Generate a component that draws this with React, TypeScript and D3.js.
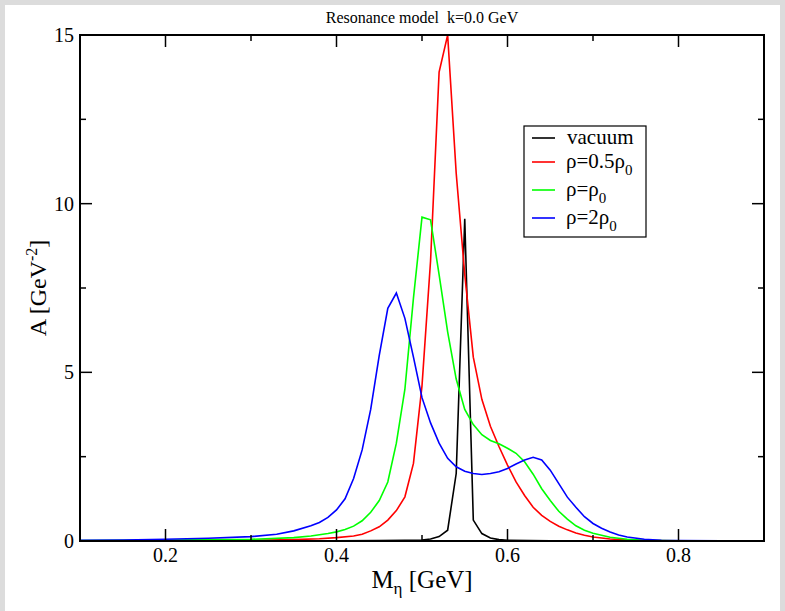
import React from "react";
import * as d3 from "d3";

const vacuumM = [0.1, 0.3, 0.4, 0.45, 0.48, 0.5, 0.51, 0.52, 0.53, 0.54, 0.55, 0.56, 0.57, 0.58, 0.59, 0.6, 0.65, 0.75, 0.9];
const vacuumA = [0.0, 0.002, 0.005, 0.01, 0.02, 0.03, 0.06, 0.13, 0.32, 2.0, 9.55, 0.62, 0.22, 0.09, 0.04, 0.02, 0.005, 0.001, 0.0];

const halfM = [0.1, 0.2, 0.3, 0.35, 0.38, 0.4, 0.42, 0.43, 0.44, 0.45, 0.46, 0.47, 0.48, 0.49, 0.5, 0.51, 0.52, 0.53, 0.54, 0.55, 0.56, 0.57, 0.58, 0.59, 0.6, 0.61, 0.62, 0.63, 0.64, 0.65, 0.66, 0.67, 0.68, 0.69, 0.7, 0.72, 0.74, 0.76, 0.8, 0.9];
const halfA = [0.003, 0.007, 0.02, 0.04, 0.065, 0.1, 0.15, 0.2, 0.3, 0.42, 0.62, 0.9, 1.31, 2.3, 4.6, 8.3, 13.9, 15.0, 10.9, 7.9, 5.45, 4.2, 3.4, 2.8, 2.25, 1.75, 1.35, 1.0, 0.76, 0.58, 0.44, 0.33, 0.24, 0.17, 0.12, 0.06, 0.03, 0.015, 0.005, 0.001];

const oneM = [0.1, 0.2, 0.3, 0.35, 0.37, 0.39, 0.4, 0.41, 0.42, 0.43, 0.44, 0.45, 0.46, 0.47, 0.48, 0.49, 0.5, 0.51, 0.52, 0.53, 0.54, 0.55, 0.56, 0.57, 0.58, 0.59, 0.6, 0.61, 0.62, 0.63, 0.64, 0.65, 0.66, 0.67, 0.68, 0.69, 0.7, 0.72, 0.74, 0.76, 0.8, 0.9];
const oneA = [0.01, 0.025, 0.05, 0.1, 0.15, 0.22, 0.27, 0.34, 0.44, 0.6, 0.85, 1.2, 1.75, 2.9, 4.5, 7.2, 9.6, 9.52, 7.9, 6.2, 4.8, 3.9, 3.45, 3.15, 2.98, 2.88, 2.75, 2.6, 2.35, 1.98, 1.55, 1.2, 0.88, 0.65, 0.45, 0.32, 0.23, 0.11, 0.05, 0.02, 0.005, 0.001];

const twoM = [0.1, 0.15, 0.2, 0.25, 0.3, 0.33, 0.35, 0.37, 0.38, 0.39, 0.4, 0.41, 0.42, 0.43, 0.44, 0.45, 0.46, 0.47, 0.48, 0.49, 0.5, 0.51, 0.52, 0.53, 0.54, 0.55, 0.56, 0.57, 0.58, 0.59, 0.6, 0.61, 0.62, 0.63, 0.64, 0.65, 0.66, 0.67, 0.68, 0.69, 0.7, 0.71, 0.72, 0.73, 0.74, 0.76, 0.78, 0.8, 0.9];
const twoA = [0.02, 0.03, 0.05, 0.08, 0.13, 0.2, 0.3, 0.45, 0.55, 0.7, 0.92, 1.25, 1.85, 2.7, 3.9, 5.5, 6.9, 7.35, 6.6, 5.45, 4.25, 3.5, 2.9, 2.45, 2.2, 2.07, 2.0, 1.97, 2.0, 2.05, 2.15, 2.28, 2.4, 2.48, 2.4, 2.1, 1.7, 1.3, 1.0, 0.72, 0.52, 0.38, 0.27, 0.18, 0.12, 0.05, 0.02, 0.01, 0.0];

const xMajorTicks = [0.2, 0.4, 0.6, 0.8];
const xMinorTicks = [0.1, 0.3, 0.5, 0.7, 0.9];
const yMajorTicks = [0, 5, 10, 15];
const yMinorTicks = [2.5, 7.5, 12.5];

const seriesNames = ["vacuum", "half", "one", "two"];
const seriesColors = ["#000000", "#ff0000", "#00ff00", "#0000ff"];

const W = 785;
const H = 611;
const L = 80, R = 764, T = 35, B = 541;
const FONT = "'Liberation Serif', 'Times New Roman', serif";

export default function App() {
  const x = d3.scaleLinear().domain([0.1, 0.9]).range([L, R]);
  const y = d3.scaleLinear().domain([0, 15]).range([B, T]);
  const line = d3.line<[number, number]>().x((d) => x(d[0])).y((d) => y(d[1]));

  const series = [
    { m: vacuumM, a: vacuumA },
    { m: halfM, a: halfA },
    { m: oneM, a: oneA },
    { m: twoM, a: twoA },
  ];

  const legX = 524, legY = 126, legW = 122, legH = 111;
  const rowY = [138, 162, 190, 218];

  return (
    <svg width={W} height={H} style={{ position: "absolute", left: 0, top: 0, background: "#ffffff" }} fontFamily={FONT}>
      <rect x={0} y={0} width={W} height={H} fill="#ffffff" />
      <rect x={0} y={0} width={W} height={5} fill="#dcdcdc" />
      <rect x={0} y={0} width={5} height={H} fill="#dcdcdc" />
      <rect x={780} y={0} width={5} height={H} fill="#dcdcdc" />
      <defs>
        <clipPath id="plotclip">
          <rect x={L} y={T} width={R - L} height={B - T} />
        </clipPath>
      </defs>
      <text x={(L + R) / 2} y={23} textAnchor="middle" fontSize={16} fill="#000" style={{ whiteSpace: "pre" }}>
        {"Resonance model  k=0.0 GeV"}
      </text>
      <g clipPath="url(#plotclip)">
        {series.map((s, i) => (
          <path
            key={seriesNames[i]}
            d={line(s.m.map((mv, j) => [mv, s.a[j]] as [number, number])) || ""}
            fill="none"
            stroke={seriesColors[i]}
            strokeWidth={1.6}
            strokeLinejoin="miter"
          />
        ))}
      </g>
      {xMajorTicks.map((t) => (
        <g key={"xM" + t}>
          <line x1={x(t)} x2={x(t)} y1={B} y2={B - 12} stroke="#000" strokeWidth={1.5} />
          <line x1={x(t)} x2={x(t)} y1={T} y2={T + 12} stroke="#000" strokeWidth={1.5} />
          <text x={x(t)} y={562} textAnchor="middle" fontSize={20}>{t.toFixed(1)}</text>
        </g>
      ))}
      {xMinorTicks.map((t) => (
        <g key={"xm" + t}>
          <line x1={x(t)} x2={x(t)} y1={B} y2={B - 6} stroke="#000" strokeWidth={1.5} />
          <line x1={x(t)} x2={x(t)} y1={T} y2={T + 6} stroke="#000" strokeWidth={1.5} />
        </g>
      ))}
      {yMajorTicks.map((t) => (
        <g key={"yM" + t}>
          <line x1={L} x2={L + 12} y1={y(t)} y2={y(t)} stroke="#000" strokeWidth={1.5} />
          <line x1={R} x2={R - 12} y1={y(t)} y2={y(t)} stroke="#000" strokeWidth={1.5} />
          <text x={74} y={y(t) + 7} textAnchor="end" fontSize={20}>{t}</text>
        </g>
      ))}
      {yMinorTicks.map((t) => (
        <g key={"ym" + t}>
          <line x1={L} x2={L + 6} y1={y(t)} y2={y(t)} stroke="#000" strokeWidth={1.5} />
          <line x1={R} x2={R - 6} y1={y(t)} y2={y(t)} stroke="#000" strokeWidth={1.5} />
        </g>
      ))}
      <rect x={L} y={T} width={R - L} height={B - T} fill="none" stroke="#000" strokeWidth={2} />
      <text x={(L + R) / 2} y={588} textAnchor="middle" fontSize={25}>
        M<tspan fontSize={17} dy={6}>η</tspan><tspan dy={-6}> [GeV]</tspan>
      </text>
      <text transform={`translate(46, ${(T + B) / 2}) rotate(-90)`} textAnchor="middle" fontSize={24}>
        A [GeV<tspan fontSize={16} dy={-9}>-2</tspan><tspan dy={9}>]</tspan>
      </text>
      <rect x={legX} y={legY} width={legW} height={legH} fill="#fff" stroke="#000" strokeWidth={1.2} />
      {rowY.map((ry, i) => (
        <line key={"ll" + i} x1={532} x2={555} y1={ry} y2={ry} stroke={seriesColors[i]} strokeWidth={1.6} />
      ))}
      <text x={567} y={rowY[0] + 6} fontSize={21}>vacuum</text>
      <text x={566} y={rowY[1] + 6} fontSize={21}>
        ρ=0.5ρ<tspan fontSize={15} dy={7}>0</tspan>
      </text>
      <text x={566} y={rowY[2] + 6} fontSize={21}>
        ρ=ρ<tspan fontSize={15} dy={7}>0</tspan>
      </text>
      <text x={566} y={rowY[3] + 6} fontSize={21}>
        ρ=2ρ<tspan fontSize={15} dy={7}>0</tspan>
      </text>
    </svg>
  );
}
